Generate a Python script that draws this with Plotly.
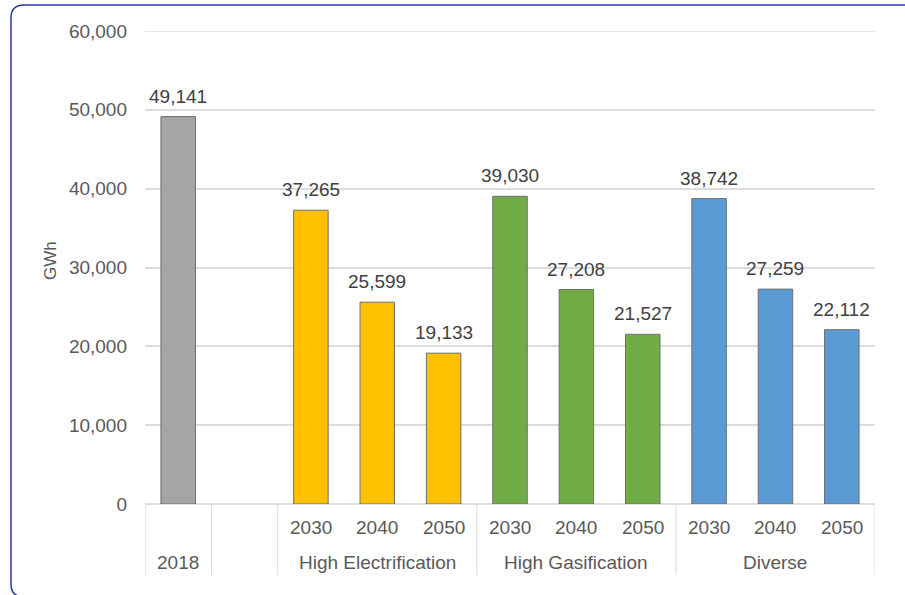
import plotly.graph_objects as go

# Annual electricity use by scenario (GWh)
base_year = ["2018"]
base_value = [49141]

years = ["2030", "2040", "2050"]
scenarios = ["High Electrification", "High Gasification", "Diverse"]
scenario_values = {
    "High Electrification": [37265, 25599, 19133],
    "High Gasification": [39030, 27208, 21527],
    "Diverse": [38742, 27259, 22112],
}
scenario_colors = {
    "High Electrification": "#FFC000",
    "High Gasification": "#70AD47",
    "Diverse": "#5B9BD5",
}
base_color = "#A5A5A5"

y_ticks = [0, 10000, 20000, 30000, 40000, 50000, 60000]

# Figure geometry (pixels)
W, H = 905, 595
ML, MR, MT, MB = 145, 30, 31, 91
PW, PH = W - ML - MR, H - MT - MB

FONT = "Liberation Sans, Arial, sans-serif"
FS = 19


def px_x(p):
    return (p - ML) / PW


def px_y(p):
    return (H - MB - p) / PH


fig = go.Figure()
annotations = []
shapes = []

bar_line = dict(color="#6E6E6E", width=1)
value_font = dict(size=FS, color="#404040", family=FONT)


def add_bars(xs, ys, color):
    fig.add_trace(go.Bar(
        x=xs, y=ys, width=0.52,
        marker=dict(color=color, line=bar_line),
        showlegend=False, hoverinfo="skip",
    ))
    for xv, yv in zip(xs, ys):
        annotations.append(dict(x=xv, y=yv, xref="x", yref="y", text=f"{yv:,}",
                                showarrow=False, font=value_font,
                                yanchor="bottom", yshift=8))


# Slot 0 = 2018, slot 1 = empty spacer, then three slots per scenario
add_bars([0], base_value, base_color)

slot = 2
group_spans = []
for sc in scenarios:
    xs = list(range(slot, slot + len(years)))
    add_bars(xs, scenario_values[sc], scenario_colors[sc])
    group_spans.append((sc, xs))
    slot += len(years)

n_slots = slot

# Top gridline (at the range boundary)
shapes.append(dict(type="line", xref="paper", yref="y", x0=0, x1=1,
                   y0=y_ticks[-1], y1=y_ticks[-1],
                   line=dict(color="#DCDCDC", width=1.5), layer="below"))

# Category dividers below the axis
for b in [-0.5, 0.5, 1.5] + [xs[-1] + 0.5 for _, xs in group_spans]:
    shapes.append(dict(type="line", xref="x", yref="paper",
                       x0=b, x1=b, y0=0, y1=px_y(575),
                       line=dict(color="#D9D9D9", width=1)))

lab_font = dict(size=FS, color="#595959", family=FONT)

# Inner labels (years) and outer labels (scenario names)
annotations.append(dict(x=0, y=px_y(562), xref="x", yref="paper", text=base_year[0],
                        showarrow=False, font=lab_font, yanchor="middle"))
for sc, xs in group_spans:
    for xv, yr in zip(xs, years):
        annotations.append(dict(x=xv, y=px_y(527), xref="x", yref="paper", text=yr,
                                showarrow=False, font=lab_font, yanchor="middle"))
    annotations.append(dict(x=(xs[0] + xs[-1]) / 2, y=px_y(562), xref="x", yref="paper",
                            text=sc, showarrow=False, font=lab_font, yanchor="middle"))

# Value axis title
annotations.append(dict(x=px_x(50), y=px_y(261), xref="paper", yref="paper",
                        text="GWh", textangle=-90, showarrow=False,
                        font=dict(size=17, color="#595959", family=FONT),
                        xanchor="center", yanchor="middle"))

# Rounded outer frame
yt, yb = px_y(5), px_y(597)
r = 13
path = (f"M {px_x(920)},{yt} L {px_x(11 + r)},{yt} "
        f"Q {px_x(11)},{yt} {px_x(11)},{px_y(5 + r)} "
        f"L {px_x(11)},{px_y(597 - r)} "
        f"Q {px_x(11)},{yb} {px_x(11 + r)},{yb} L {px_x(920)},{yb}")
shapes.append(dict(type="path", xref="paper", yref="paper", path=path,
                   line=dict(color="#2E3A9C", width=1.5)))

fig.update_layout(
    width=W, height=H,
    margin=dict(l=ML, r=MR, t=MT, b=MB),
    paper_bgcolor="white", plot_bgcolor="white",
    shapes=shapes, annotations=annotations,
    font=dict(family=FONT, color="#595959"),
    xaxis=dict(range=[-0.5, n_slots - 0.5], showticklabels=False, showgrid=False,
               zeroline=False, showline=False, ticks="", fixedrange=True),
    yaxis=dict(range=[0, 60000], tickvals=y_ticks, tickformat=",",
               showgrid=True, gridcolor="#DCDCDC", gridwidth=1.5,
               zeroline=True, zerolinecolor="#DCDCDC", zerolinewidth=1.5,
               showline=False, ticks="", ticklabelstandoff=17,
               tickfont=dict(size=FS, color="#595959")),
)

fig.write_html("out.html")
